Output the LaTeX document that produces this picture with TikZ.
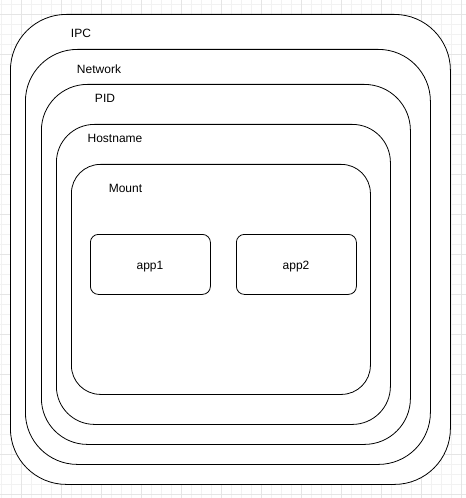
\documentclass[tikz,border=0pt]{standalone}
\usepackage{fontspec}
\setmainfont{Liberation Sans}
\begin{document}
\begin{tikzpicture}[x=1bp,y=-1bp,
  box/.style={draw=black, line width=0.8bp, fill=white, rectangle, inner sep=0pt, anchor=north west},
  lbl/.style={font=\fontsize{12bp}{14bp}\selectfont, anchor=base, inner sep=0pt},
  minorgrid/.style={draw=black!5, line width=0.5bp},
  majorgrid/.style={draw=black!10, line width=0.6bp}]
\useasboundingbox (0,0) rectangle (466,498);
\fill[white] (0,0) rectangle (466,498);
% grid
\foreach \gx in {1,11,...,461} \draw[minorgrid] (\gx,0) -- (\gx,498);
\foreach \gy in {4,14,...,494} \draw[minorgrid] (0,\gy) -- (466,\gy);
\foreach \gx in {21,61,...,461} \draw[majorgrid] (\gx,0) -- (\gx,498);
\foreach \gy in {14,54,...,494} \draw[majorgrid] (0,\gy) -- (466,\gy);
% containers
\node[box, minimum width=440bp, minimum height=470bp, rounded corners=56bp] (ipc) at (10,14) {};
\node[box, minimum width=405bp, minimum height=415bp, rounded corners=52bp] (network) at (25,49) {};
\node[box, minimum width=369bp, minimum height=360bp, rounded corners=46bp] (pid) at (41,84) {};
\node[box, minimum width=334bp, minimum height=300bp, rounded corners=38bp] (hostname) at (56,124) {};
\node[box, minimum width=299bp, minimum height=230bp, rounded corners=29bp] (mount) at (71,164) {};
\node[box, minimum width=120bp, minimum height=60bp, rounded corners=8bp] (app1) at (90,234) {};
\node[box, minimum width=120bp, minimum height=60bp, rounded corners=8bp] (app2) at (236,234) {};
% labels
\node[lbl] (ipcl) at (81,38) {IPC};
\node[lbl] (networkl) at (99,74) {Network};
\node[lbl] (pidl) at (105,103) {PID};
\node[lbl] (hostnamel) at (115,143) {Hostname};
\node[lbl] (mountl) at (125.5,193) {Mount};
\node[lbl] (app1l) at (150,269) {app1};
\node[lbl] (app2l) at (296,269) {app2};
\end{tikzpicture}
\end{document}
